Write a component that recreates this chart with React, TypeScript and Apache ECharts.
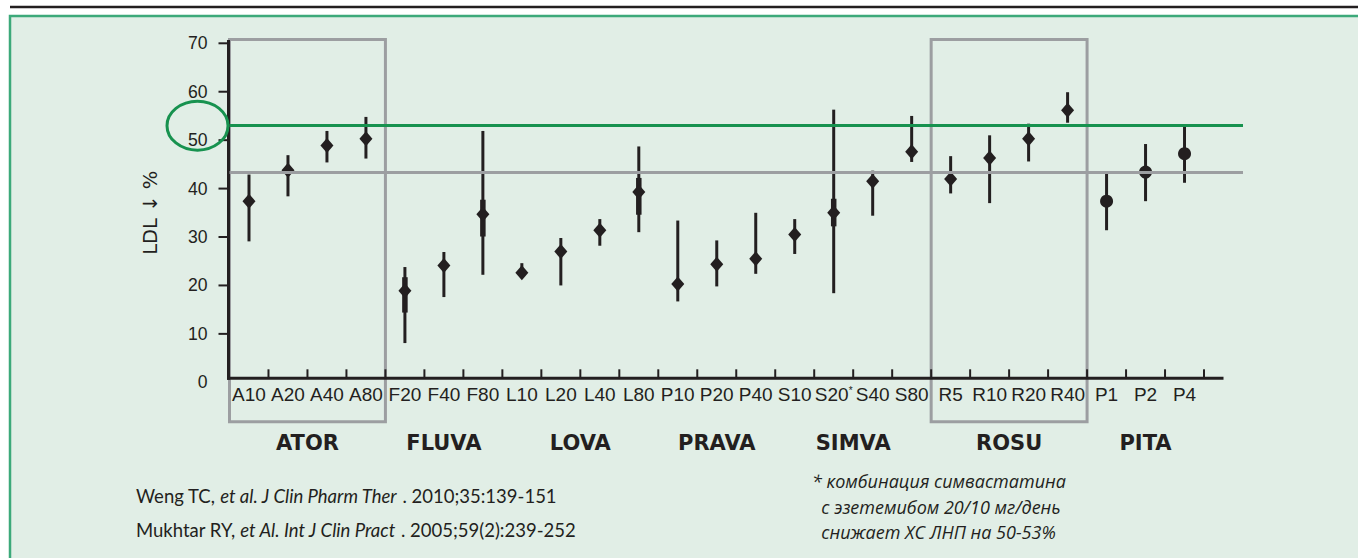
import React, { useEffect, useRef } from 'react';
import * as echarts from 'echarts';

// ---------- data ----------
const categories = ['A10', 'A20', 'A40', 'A80', 'F20', 'F40', 'F80', 'L10', 'L20', 'L40', 'L80', 'P10', 'P20', 'P40', 'S10', 'S20*', 'S40', 'S80', 'R5', 'R10', 'R20', 'R40', 'P1', 'P2', 'P4'];
const means = [37.4, 43.8, 48.9, 50.3, 18.9, 24.1, 34.7, 22.6, 27.0, 31.4, 39.3, 20.3, 24.4, 25.5, 30.5, 35.0, 41.5, 47.6, 42.0, 46.3, 50.3, 56.2, 37.4, 43.4, 47.2];
const lows = [29.1, 38.4, 45.4, 46.2, 8.1, 17.6, 22.2, 21.8, 20.0, 28.2, 31.0, 16.7, 19.8, 22.4, 26.5, 18.4, 34.4, 45.5, 39.0, 37.0, 45.6, 53.6, 31.4, 37.4, 41.2];
const highs = [42.9, 46.9, 51.9, 54.8, 23.8, 26.9, 51.9, 24.6, 29.8, 33.7, 48.7, 33.4, 29.3, 35.0, 33.7, 56.3, 43.7, 55.0, 46.7, 51.0, 53.4, 59.9, 43.6, 49.2, 53.1];
const innerLows = [null, null, null, null, 14.4, null, 30.1, null, null, null, 34.6, null, null, null, null, 32.2, null, null, null, null, null, null, null, null, null];
const innerHighs = [null, null, null, null, 21.7, null, 37.7, null, null, null, 42.2, null, null, null, null, 37.9, null, null, null, null, null, null, null, null, null];
const markerShapes = ['diamond', 'diamond', 'diamond', 'diamond', 'diamond', 'diamond', 'diamond', 'diamond', 'diamond', 'diamond', 'diamond', 'diamond', 'diamond', 'diamond', 'diamond', 'diamond', 'diamond', 'diamond', 'diamond', 'diamond', 'diamond', 'diamond', 'circle', 'circle', 'circle'];
const groupNames = ['ATOR', 'FLUVA', 'LOVA', 'PRAVA', 'SIMVA', 'ROSU', 'PITA'];
const groupSizes = [4, 3, 4, 3, 4, 4, 3];
const boxedGroups = ['ATOR', 'ROSU'];
const yTickValues = [10, 20, 30, 40, 50, 60, 70];
const targetLine = 53;
const meanLine = 43.4;
const yAxisTitle = 'LDL ↓ %';
const refLine1 = ['Weng TC, ', 'et al. J Clin Pharm Ther', ' . 2010;35:139-151'];
const refLine2 = ['Mukhtar RY, ', 'et Al. Int J Clin Pract', ' . 2005;59(2):239-252'];
const noteLines = ['* комбинация симвастатина', '  с эзетемибом 20/10 мг/день', '  снижает ХС ЛНП на 50-53%'];

// ---------- style ----------
const INK = '#231f20';
const GREEN = '#17924f';
const GREY = '#9c9ea1';
const PANEL = '#e1eee6';
const PANEL_BORDER = '#3ca97a';
const NARROW = '"Liberation Sans Narrow", "Liberation Sans", sans-serif';

export default function App() {
  const ref = useRef<HTMLDivElement>(null);

  useEffect(() => {
    if (!ref.current) return;
    const chart = echarts.init(ref.current, undefined, { renderer: 'svg' });

    const xData = [...categories, ''];

    const frameRender = (params: any, api: any) => {
      const band = api.size([1, 0])[0];
      const c = (i: number, v: number) => api.coord([i, v]);
      const y0 = c(0, 0)[1];
      const axisY = y0 - 4;
      const left = c(0, 0)[0] - band / 2;
      const children: any[] = [];
      let start = 0;
      groupNames.forEach((g, gi) => {
        const end = start + groupSizes[gi] - 1;
        const xs = c(start, 0)[0] - band / 2;
        const xe = c(end, 0)[0] + band / 2;
        if (boxedGroups.includes(g)) {
          const top = c(0, 70.8)[1];
          children.push({
            type: 'rect',
            shape: { x: xs, y: top, width: xe - xs, height: y0 + 39.5 - top },
            style: { fill: 'none', stroke: GREY, lineWidth: 3 },
          });
        }
        children.push({
          type: 'text',
          style: {
            text: g, x: (xs + xe) / 2, y: y0 + 61, align: 'center', verticalAlign: 'middle',
            fontFamily: '"DejaVu Sans", sans-serif', fontWeight: 'bold', fontSize: 21, fill: INK,
          },
        });
        start = end + 1;
      });
      // x axis line
      children.push({
        type: 'line',
        shape: { x1: left - 2.5, y1: axisY, x2: c(categories.length, 0)[0], y2: axisY },
        style: { stroke: INK, lineWidth: 3 },
      });
      for (let i = 1; i <= categories.length; i++) {
        const x = left + i * band;
        children.push({ type: 'line', shape: { x1: x, y1: axisY, x2: x, y2: axisY - 9 }, style: { stroke: INK, lineWidth: 2 } });
      }
      // y axis line
      children.push({
        type: 'line',
        shape: { x1: left - 1, y1: c(0, 70.7)[1], x2: left - 1, y2: axisY + 1.5 },
        style: { stroke: INK, lineWidth: 3 },
      });
      yTickValues.forEach((v) => {
        const y = c(0, v)[1];
        children.push({ type: 'line', shape: { x1: left - 11, y1: y, x2: left - 1, y2: y }, style: { stroke: INK, lineWidth: 2 } });
      });
      // highlight ellipse around target value
      children.push({
        type: 'ellipse',
        shape: { cx: left - 32, cy: c(0, targetLine)[1], rx: 30.5, ry: 24.5 },
        style: { fill: 'none', stroke: GREEN, lineWidth: 3 },
      });
      return { type: 'group', children };
    };

    const errRender = (params: any, api: any) => {
      const i = api.value(0);
      const lo = api.coord([i, api.value(1)]);
      const hi = api.coord([i, api.value(2)]);
      const children: any[] = [
        { type: 'line', shape: { x1: lo[0], y1: lo[1], x2: hi[0], y2: hi[1] }, style: { stroke: INK, lineWidth: 3 } },
      ];
      const il = innerLows[params.dataIndex];
      const ih = innerHighs[params.dataIndex];
      if (il != null && ih != null) {
        const a = api.coord([i, il]);
        const b = api.coord([i, ih]);
        children.push({ type: 'line', shape: { x1: a[0], y1: a[1], x2: b[0], y2: b[1] }, style: { stroke: INK, lineWidth: 5.5 } });
      }
      return { type: 'group', children };
    };

    chart.setOption({
      animation: false,
      backgroundColor: '#ffffff',
      grid: { left: 229.5, top: 43.3, width: 1013.5, height: 339, containLabel: false },
      xAxis: {
        type: 'category',
        data: xData,
        boundaryGap: true,
        axisLine: { show: false },
        axisTick: { show: false },
        splitLine: { show: false },
        axisLabel: {
          interval: 0,
          margin: 3,
          color: INK,
          fontFamily: NARROW,
          fontSize: 19,
          formatter: (v: string) => (v.endsWith('*') ? `{m|${v.slice(0, -1)}}{s|*}` : v),
          rich: {
            m: { fontFamily: NARROW, fontSize: 19, color: INK },
            s: { fontFamily: NARROW, fontSize: 10, color: INK, verticalAlign: 'top' },
          },
        },
      },
      yAxis: {
        type: 'value',
        min: 0,
        max: 70,
        interval: 10,
        axisLine: { show: false },
        axisTick: { show: false },
        splitLine: { show: false },
        axisLabel: { margin: 22, color: INK, fontFamily: NARROW, fontSize: 17.6 },
        name: yAxisTitle,
        nameLocation: 'middle',
        nameRotate: 90,
        nameGap: 69,
        nameTextStyle: { color: INK, fontFamily: '"DejaVu Sans", sans-serif', fontSize: 19.5 },
      },
      graphic: [
        { type: 'rect', z: -100, silent: true, shape: { x: 10, y: 16, width: 1400, height: 600 }, style: { fill: PANEL, stroke: PANEL_BORDER, lineWidth: 2.5 } },
        { type: 'line', z: -100, silent: true, shape: { x1: 10, y1: 7, x2: 1358, y2: 7 }, style: { stroke: INK, lineWidth: 2.5 } },
        {
          type: 'text', x: 136, y: 496, silent: true,
          style: {
            text: `{n|${refLine1[0]}}{i|${refLine1[1]}}{n|${refLine1[2]}}`,
            verticalAlign: 'middle',
            rich: {
              n: { fontFamily: 'Lato, sans-serif', fontSize: 18.5, fill: INK },
              i: { fontFamily: 'Lato, sans-serif', fontSize: 18.5, fontStyle: 'italic', fill: INK },
            },
          },
        },
        {
          type: 'text', x: 136, y: 530, silent: true,
          style: {
            text: `{n|${refLine2[0]}}{i|${refLine2[1]}}{n|${refLine2[2]}}`,
            verticalAlign: 'middle',
            rich: {
              n: { fontFamily: 'Lato, sans-serif', fontSize: 18.5, fill: INK },
              i: { fontFamily: 'Lato, sans-serif', fontSize: 18.5, fontStyle: 'italic', fill: INK },
            },
          },
        },
        ...noteLines.map((t, k) => ({
          type: 'text', x: 812, y: 481 + k * 25.5, silent: true,
          style: {
            text: t, verticalAlign: 'middle', fill: INK,
            fontFamily: '"Open Sans", sans-serif', fontStyle: 'italic', fontSize: 18,
          },
        })),
      ],
      series: [
        {
          type: 'custom',
          name: 'frame',
          silent: true,
          clip: false,
          z: 1,
          data: [[0, 0]],
          renderItem: frameRender,
          markLine: {
            silent: true,
            symbol: 'none',
            label: { show: false },
            data: [
              { yAxis: targetLine, lineStyle: { color: GREEN, width: 3, type: 'solid' } },
              { yAxis: meanLine, lineStyle: { color: GREY, width: 3, type: 'solid' } },
            ],
          },
        },
        {
          type: 'custom',
          name: 'range',
          silent: true,
          clip: false,
          z: 3,
          data: categories.map((_, i) => [i, lows[i], highs[i]]),
          encode: { x: 0, y: [1, 2] },
          renderItem: errRender,
        },
        {
          type: 'scatter',
          name: 'mean',
          silent: true,
          z: 4,
          itemStyle: { color: INK, opacity: 1 },
          data: means.map((m, i) => ({
            value: [i, m],
            symbol: markerShapes[i],
            symbolSize: markerShapes[i] === 'circle' ? 13 : [13, 15],
          })),
        },
      ],
    });

    return () => chart.dispose();
  }, []);

  return (
    <div
      ref={ref}
      style={{ position: 'fixed', left: 0, top: 0, width: 1358, height: 558 }}
    />
  );
}
